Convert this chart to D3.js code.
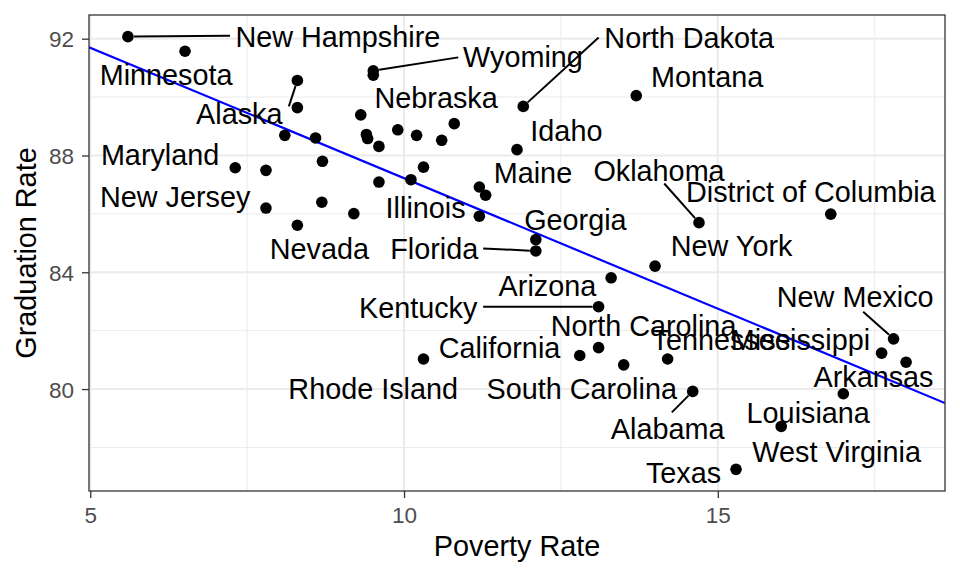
<!DOCTYPE html>
<html>
<head>
<meta charset="utf-8">
<script src="https://cdn.jsdelivr.net/npm/d3@7"></script>
<style>
  body { margin: 0; background: #fff; }
  text { font-family: "Liberation Sans", Arial, sans-serif; }
</style>
</head>
<body>
<script>
// poverty rate vs graduation rate, one point per state (+ DC)
const poverty = [
  5.60, 6.51, 8.30, 8.30, 8.10, 8.59, 7.31, 7.80, 8.70, 7.80,
  8.69, 8.30, 9.51, 9.51, 9.31, 9.40, 9.42, 9.60, 9.90, 10.20,
  10.60, 10.80, 11.90, 11.80, 13.70, 9.60, 10.31, 10.11, 11.20, 11.30,
  9.20, 11.20, 12.10, 12.10, 13.30, 13.10, 10.31, 12.80, 13.10, 13.50,
  14.20, 14.70, 16.80, 14.00, 17.80, 17.61, 18.00, 17.00, 16.01, 15.29,
  14.60
];
const graduation = [
  92.07, 91.57, 90.57, 89.64, 88.69, 88.60, 87.58, 87.49, 87.80, 86.20,
  86.40, 85.61, 90.90, 90.75, 89.39, 88.72, 88.58, 88.31, 88.88, 88.69,
  88.52, 89.09, 89.68, 88.20, 90.05, 87.09, 87.60, 87.17, 86.92, 86.64,
  86.01, 85.92, 85.12, 84.73, 83.81, 82.82, 81.03, 81.15, 81.42, 80.83,
  81.03, 85.70, 85.99, 84.21, 81.72, 81.23, 80.92, 79.84, 78.72, 77.25,
  79.92
];

// repelled labels (text centre, in data units)
const labelNames = [
  "New Hampshire", "Minnesota", "Alaska", "Wyoming", "Nebraska", "North Dakota",
  "Montana", "Idaho", "Maryland", "Maine", "Oklahoma", "District of Columbia",
  "New Jersey", "Illinois", "Georgia", "Nevada", "Florida", "New York",
  "Arizona", "Kentucky", "New Mexico", "North Carolina", "Tennessee", "Mississippi",
  "California", "Arkansas", "Rhode Island", "South Carolina", "Alabama", "Louisiana",
  "West Virginia", "Texas"
];
const labelPov = [
  8.945, 6.209, 7.375, 11.895, 10.511, 14.544,
  14.830, 12.587, 6.113, 12.054, 14.063, 16.481,
  6.352, 10.344, 12.730, 8.650, 10.480, 15.219,
  12.285, 10.225, 17.189, 13.817, 15.053, 16.317,
  11.521, 17.481, 9.509, 12.831, 14.201, 16.441,
  16.893, 14.453
];
const labelGrad = [
  92.07, 90.77, 89.44, 91.385, 89.985, 92.05,
  90.70, 88.858, 88.038, 87.406, 87.475, 86.751,
  86.604, 86.211, 85.801, 84.811, 84.818, 84.896,
  83.530, 82.779, 83.154, 82.164, 81.686, 81.686,
  81.413, 80.422, 80.012, 80.012, 78.653, 79.209,
  77.871, 77.133
];

// leader segments: label-side end and the point they lead to
const segPoint = [0, 2, 12, 22, 41, 33, 35, 44, 50];
const segPov   = [7.227, 8.165, 10.864, 13.101, 14.146, 11.261, 11.261, 17.316, 14.267];
const segGrad  = [92.10, 89.68, 91.36, 92.04, 87.04, 84.818, 82.823, 82.652, 79.203];

const xTicks = [5, 10, 15];
const yTicks = [80, 84, 88, 92];
const xMinor = [7.5, 12.5, 17.5];
const yMinor = [78, 82, 86, 90];

const W = 960, H = 576;
const margin = { top: 15, right: 15, bottom: 85, left: 89 };
const pw = W - margin.left - margin.right,
      ph = H - margin.top - margin.bottom;

function expand(ext) {
  const d = (ext[1] - ext[0]) * 0.05;
  return [ext[0] - d, ext[1] + d];
}

const x = d3.scaleLinear().domain(expand(d3.extent(poverty))).range([0, pw]);
const y = d3.scaleLinear().domain(expand(d3.extent(graduation))).range([ph, 0]);

const svg = d3.select('body').append('svg')
  .attr('width', W).attr('height', H);

svg.append('defs').append('clipPath').attr('id', 'clip')
  .append('rect').attr('width', pw).attr('height', ph);

const g = svg.append('g')
  .attr('transform', `translate(${margin.left},${margin.top})`);

// grid
g.selectAll('.xminor').data(xMinor).enter().append('line')
  .attr('x1', d => x(d)).attr('x2', d => x(d)).attr('y1', 0).attr('y2', ph)
  .attr('stroke', '#ebebeb').attr('stroke-width', 1);
g.selectAll('.yminor').data(yMinor).enter().append('line')
  .attr('y1', d => y(d)).attr('y2', d => y(d)).attr('x1', 0).attr('x2', pw)
  .attr('stroke', '#ebebeb').attr('stroke-width', 1);
g.selectAll('.xmajor').data(xTicks).enter().append('line')
  .attr('x1', d => x(d)).attr('x2', d => x(d)).attr('y1', 0).attr('y2', ph)
  .attr('stroke', '#ebebeb').attr('stroke-width', 2);
g.selectAll('.ymajor').data(yTicks).enter().append('line')
  .attr('y1', d => y(d)).attr('y2', d => y(d)).attr('x1', 0).attr('x2', pw)
  .attr('stroke', '#ebebeb').attr('stroke-width', 2);

// least squares fit, drawn over the whole panel
const mx = d3.mean(poverty), my = d3.mean(graduation);
let sxy = 0, sxx = 0;
poverty.forEach((p, i) => { sxy += (p - mx) * (graduation[i] - my); sxx += (p - mx) * (p - mx); });
const slope = sxy / sxx, intercept = my - slope * mx;
const xd = x.domain();
g.append('line')
  .attr('clip-path', 'url(#clip)')
  .attr('x1', x(xd[0])).attr('y1', y(intercept + slope * xd[0]))
  .attr('x2', x(xd[1])).attr('y2', y(intercept + slope * xd[1]))
  .attr('stroke', '#0000ff').attr('stroke-width', 2.2);

// points
g.selectAll('.pt').data(poverty).enter().append('circle')
  .attr('cx', d => x(d))
  .attr('cy', (d, i) => y(graduation[i]))
  .attr('r', 5.8)
  .attr('fill', '#000');

// segments, stopped at the edge of the dot
g.selectAll('.seg').data(segPoint).enter().append('line')
  .each(function(pi, i) {
    const x1 = x(segPov[i]), y1 = y(segGrad[i]);
    const x2 = x(poverty[pi]), y2 = y(graduation[pi]);
    const len = Math.hypot(x2 - x1, y2 - y1), k = (len - 6) / len;
    d3.select(this)
      .attr('x1', x1).attr('y1', y1)
      .attr('x2', x1 + (x2 - x1) * k).attr('y2', y1 + (y2 - y1) * k);
  })
  .attr('stroke', '#000').attr('stroke-width', 2);

// labels
g.selectAll('.lab').data(labelNames).enter().append('text')
  .attr('x', (d, i) => x(labelPov[i]))
  .attr('y', (d, i) => y(labelGrad[i]))
  .attr('dy', '0.36em')
  .attr('text-anchor', 'middle')
  .attr('font-size', 28.8)
  .attr('fill', '#000')
  .text(d => d);

// panel border
g.append('rect').attr('width', pw).attr('height', ph)
  .attr('fill', 'none').attr('stroke', '#333333').attr('stroke-width', 1.3);

// axes
const xAxis = g.append('g').attr('transform', `translate(0,${ph})`)
  .call(d3.axisBottom(x).tickValues(xTicks).tickSize(7).tickPadding(9).tickFormat(d3.format('d')));
const yAxis = g.append('g')
  .call(d3.axisLeft(y).tickValues(yTicks).tickSize(7).tickPadding(8).tickFormat(d3.format('d')));
[xAxis, yAxis].forEach(a => {
  a.select('.domain').remove();
  a.selectAll('line').attr('stroke', '#333333').attr('stroke-width', 1.3);
  a.selectAll('text').attr('fill', '#4d4d4d').attr('font-size', 22.5)
    .attr('font-family', '"Liberation Sans", Arial, sans-serif');
});
yAxis.selectAll('text').attr('dy', '0.36em');

// axis titles
svg.append('text')
  .attr('x', margin.left + pw / 2).attr('y', 546).attr('dy', '0.36em')
  .attr('text-anchor', 'middle').attr('font-size', 28.8)
  .text('Poverty Rate');
svg.append('text')
  .attr('transform', `translate(25.5,${margin.top + ph / 2}) rotate(-90)`)
  .attr('dy', '0.36em')
  .attr('text-anchor', 'middle').attr('font-size', 28.8)
  .text('Graduation Rate');
</script>
</body>
</html>
